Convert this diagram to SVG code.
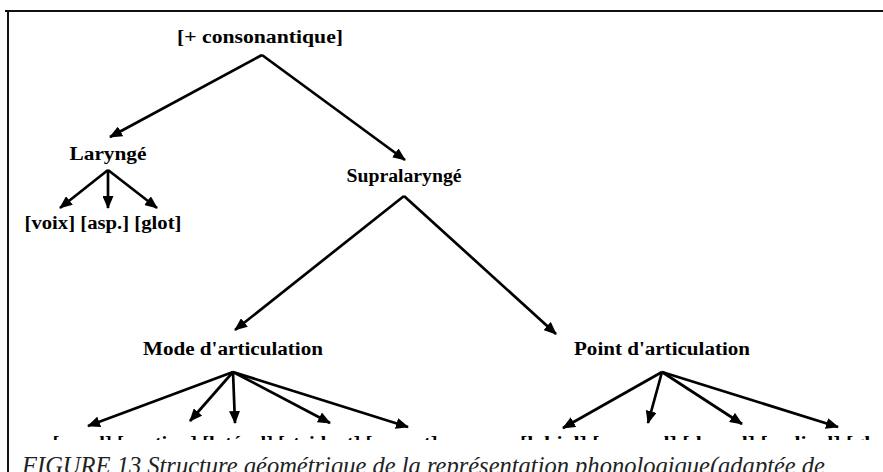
<svg xmlns="http://www.w3.org/2000/svg" width="883" height="472" viewBox="0 0 883 472">
<defs>
<style>
.lbl{font-family:"Liberation Serif","Times New Roman",serif;font-weight:bold;font-size:18px;fill:#000;text-anchor:middle}
.edge{stroke:#000;stroke-width:2.7;fill:none}
.cap{font-family:"Liberation Serif","Times New Roman",serif;font-style:italic;font-size:25px;fill:#222}
</style>
<marker id="ah" viewBox="0 0 13 11" refX="12" refY="5.5" markerWidth="13" markerHeight="11" markerUnits="userSpaceOnUse" orient="auto">
<path d="M0,0 L13,5.5 L0,11 z" fill="#000"/>
</marker>
<clipPath id="cut"><rect x="0" y="0" width="883" height="440"/></clipPath>
</defs>
<rect width="883" height="472" fill="#fff"/>
<path d="M5,11 H883 M8,11 V472" stroke="#111" stroke-width="2" fill="none"/>

<g id="connectors">
<line class="edge" x1="262" y1="55" x2="110" y2="137" marker-end="url(#ah)"/>
<line class="edge" x1="262" y1="55" x2="405" y2="160" marker-end="url(#ah)"/>
<line class="edge" x1="108" y1="170" x2="60" y2="208" marker-end="url(#ah)"/>
<line class="edge" x1="108" y1="170" x2="108" y2="208" marker-end="url(#ah)"/>
<line class="edge" x1="108" y1="170" x2="157" y2="208" marker-end="url(#ah)"/>
<line class="edge" x1="404" y1="196" x2="235" y2="330" marker-end="url(#ah)"/>
<line class="edge" x1="404" y1="196" x2="556" y2="334" marker-end="url(#ah)"/>
<line class="edge" x1="233" y1="372" x2="88" y2="426" marker-end="url(#ah)"/>
<line class="edge" x1="233" y1="372" x2="190" y2="421" marker-end="url(#ah)"/>
<line class="edge" x1="233" y1="372" x2="235" y2="423" marker-end="url(#ah)"/>
<line class="edge" x1="233" y1="372" x2="330" y2="423" marker-end="url(#ah)"/>
<line class="edge" x1="233" y1="372" x2="408" y2="427" marker-end="url(#ah)"/>
<line class="edge" x1="662" y1="372" x2="563" y2="428" marker-end="url(#ah)"/>
<line class="edge" x1="662" y1="372" x2="648" y2="423" marker-end="url(#ah)"/>
<line class="edge" x1="662" y1="372" x2="742" y2="424" marker-end="url(#ah)"/>
<line class="edge" x1="662" y1="372" x2="838" y2="427" marker-end="url(#ah)"/>
</g>

<g id="n-consonantique"><text class="lbl" x="260" y="43" font-size="20" textLength="166" lengthAdjust="spacingAndGlyphs">[+ consonantique]</text></g>
<g id="n-larynge"><text class="lbl" x="108" y="160" textLength="77" lengthAdjust="spacingAndGlyphs">Laryngé</text></g>
<g id="n-laryngeaux"><text class="lbl" x="103" y="229" textLength="157" lengthAdjust="spacingAndGlyphs">[voix] [asp.] [glot]</text></g>
<g id="n-supralarynge"><text class="lbl" x="404" y="182" textLength="115" lengthAdjust="spacingAndGlyphs">Supralaryngé</text></g>
<g id="n-mode"><text class="lbl" x="233" y="355" textLength="180" lengthAdjust="spacingAndGlyphs">Mode d'articulation</text></g>
<g id="n-point"><text class="lbl" x="662" y="355" textLength="176" lengthAdjust="spacingAndGlyphs">Point d'articulation</text></g>
<g id="n-bottom" clip-path="url(#cut)">
<text class="lbl" x="245" y="449" textLength="385" lengthAdjust="spacingAndGlyphs">[nasal] [continu] [latéral] [strident] [sonant]</text>
<text class="lbl" x="720" y="449" textLength="400" lengthAdjust="spacingAndGlyphs">[labial] [coronal] [dorsal] [radical] [glottal]</text>
</g>
<text class="cap" x="22" y="474" textLength="803" lengthAdjust="spacingAndGlyphs">FIGURE 13 Structure géométrique de la représentation phonologique(adaptée de</text>
</svg>
